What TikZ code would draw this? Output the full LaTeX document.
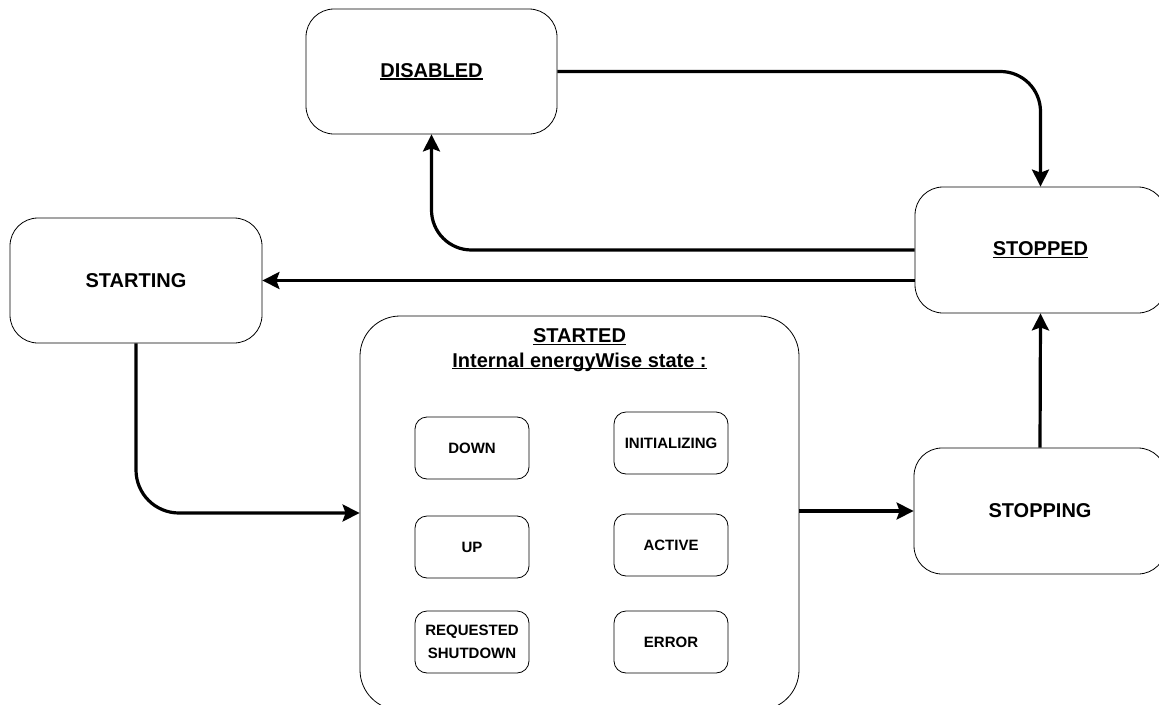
\documentclass[tikz,border=0pt]{standalone}
\usepackage{fontspec}
\setmainfont{Liberation Sans}
\usetikzlibrary{arrows.meta}
\newsavebox\ulbox
\newcommand\ulx[1]{\sbox\ulbox{#1}\rlap{\rule[-2.2pt]{\wd\ulbox}{1.4pt}}\usebox\ulbox}
\tikzset{
  bigstate/.style={draw=black, line width=0.8pt, rounded corners=28pt, minimum width=251pt, minimum height=125pt, inner sep=0pt,
    font=\fontsize{20}{23}\selectfont\bfseries},
  substate/.style={draw=black, line width=0.8pt, rounded corners=12pt, minimum width=114pt, minimum height=62pt, inner sep=0pt,
    align=center, font=\fontsize{15}{23}\selectfont\bfseries},
  container/.style={draw=black, line width=0.8pt, rounded corners=40pt, minimum width=439pt, minimum height=394pt, inner sep=0pt},
  titletext/.style={font=\fontsize{20}{23}\selectfont\bfseries, inner sep=0pt},
  arr/.style={line width=3.2pt, -{Stealth[length=17pt,width=17pt,inset=3pt]}, rounded corners=40pt}
}
\begin{document}
\begin{tikzpicture}[x=1pt,y=-1pt]
\useasboundingbox (0,0) rectangle (1159,704);
\clip (0,0) rectangle (1159,704);
\fill[white] (0,0) rectangle (1159,704);
% main states
\node[bigstate] (dis) at (431.5,71.5) {\ulx{DISABLED}};
\node[bigstate, minimum height=126pt] (sto) at (1040.5,250) {\ulx{STOPPED}};
\node[bigstate, minimum width=252pt] (sta) at (136,280.5) {STARTING};
\node[bigstate, minimum width=252pt, minimum height=126pt] (stp) at (1040,511) {STOPPING};
\node[container] (started) at (579.5,513) {};
\node[titletext] (t1) at (579.5,337) {\ulx{STARTED}};
\node[titletext] (t2) at (579.5,362) {\ulx{Internal energyWise state :}};
% sub states
\node[substate] (down) at (472,448) {DOWN};
\node[substate] (init) at (671,443) {INITIALIZING};
\node[substate] (up) at (472,547) {UP};
\node[substate] (act) at (671,545) {ACTIVE};
\node[substate] (req) at (472,642) {REQUESTED\\SHUTDOWN};
\node[substate] (err) at (671,642) {ERROR};
% connectors
\draw[arr] (dis.east) -| (sto.north);
\draw[arr] (sto.west) -| (dis.south);
\draw[arr] (sto.west |- sta.east) -- (sta.east);
\draw[arr, rounded corners=43pt] (sta.south) |- (started.west);
\draw[arr] (started.east |- stp.west) -- (stp.west);
\draw[arr] (stp.north) -- (sto.south);
\end{tikzpicture}
\end{document}
